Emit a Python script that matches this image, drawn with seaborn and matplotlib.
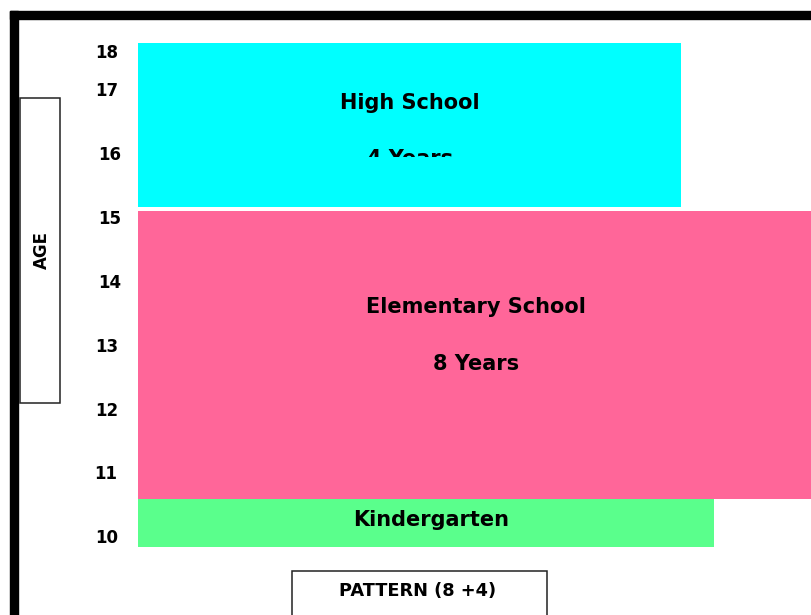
import matplotlib
matplotlib.use("Agg")
import matplotlib.pyplot as plt
import numpy as np
import pandas as pd
import seaborn as sns
from matplotlib.patches import Rectangle
from matplotlib.transforms import Bbox

# ---------------- data ----------------
stages = ["Kindergarten", "Elementary School", "High School"]
durations = ["", "8 Years", "4 Years"]
start_age = [9.84, 10.60, 15.17]
end_age = [10.595, 15.105, 17.745]
bar_span = [576, 690, 543]          # horizontal extent of each block
stage_colors = ["#5AFF8C", "#FF6699", "#00FFFF"]
ages = [10, 11, 12, 13, 14, 15, 16, 17, 18]
age_label_pos = [10, 11, 12, 13, 14, 15, 16, 17, 17.6]
age_label_x = [106.5, 106, 106.5, 106.5, 110, 110, 110, 106.5, 106.5]
y_title = "AGE"
x_title = "PATTERN (8 +4)"

# ---------------- figure ----------------
W, H = 811, 615
sns.set_theme(style="white")
plt.rcParams['font.family'] = ['DejaVu Sans']

PX_PER_YEAR = 63.83
def age_of(px):
    return 10 + (537 - px) / PX_PER_YEAR

def fx(x):
    return x / W

def fy(y):
    return 1 - y / H

fig = plt.figure(figsize=(W / 100, H / 100), dpi=100)
fig.patch.set_facecolor("white")
ax = fig.add_axes([0, 0, 1, 1])
ax.set_xlim(0, W)
ax.set_ylim(age_of(H), age_of(0))
ax.axis("off")

df = pd.DataFrame({"stage": stages, "start": start_age, "end": end_age,
                   "span": bar_span, "color": stage_colors, "dur": durations})
ax.bar(x=138, width=df["span"], bottom=df["start"], height=df["end"] - df["start"],
       align="edge", color=df["color"], linewidth=0, zorder=2)

# outer frame (top and left)
fig.patches.append(Rectangle((fx(10), fy(19)), (W - 10) / W, 8 / H,
                             transform=fig.transFigure, color="black", zorder=5))
fig.patches.append(Rectangle((fx(10), 0), 8.3 / W, fy(11),
                             transform=fig.transFigure, color="black", zorder=5))

# age tick labels (baseline sits ~6 px below the label centre)
base_off = 6.2 / PX_PER_YEAR
for a, pos, xx in zip(ages, age_label_pos, age_label_x):
    ax.text(xx, pos - base_off, str(a), ha="center", va="baseline",
            fontsize=12, fontweight="bold", color="#000000", zorder=3)

# stage texts
big = 15
ax_txt = dict(transform=fig.transFigure, ha="center", va="baseline",
              fontsize=big, fontweight="bold", color="#000000", zorder=4)
fig.text(fx(409.5), fy(109.3), stages[2], **ax_txt)
t4 = fig.text(fx(410.5), fy(165), durations[2], **ax_txt)
t4.set_clip_on(True)
t4.set_clip_box(Bbox([[138, H - 157], [681, H - 43]]))
fig.text(fx(475.5), fy(313.3), stages[1], **ax_txt)
fig.text(fx(476), fy(370), durations[1], **ax_txt)
fig.text(fx(431), fy(526.5), stages[0], **ax_txt)

# AGE box
fig.patches.append(Rectangle((fx(20), fy(403)), 40 / W, 305 / H,
                             transform=fig.transFigure, facecolor="white",
                             edgecolor="#222222", linewidth=1.1, zorder=3))
fig.text(fx(41.5), fy(250), y_title, rotation=90, ha="center", va="center",
         fontsize=12, fontweight="bold", color="#000000", zorder=4)

# PATTERN box
fig.patches.append(Rectangle((fx(291.7), fy(625)), 255 / W, (625 - 570.7) / H,
                             transform=fig.transFigure, facecolor="white",
                             edgecolor="#222222", linewidth=1.1, zorder=3))
fig.text(fx(418), fy(595.7), x_title, ha="center", va="baseline",
         fontsize=12.8, fontweight="bold", color="#000000", zorder=4)

fig.savefig("out.png", dpi=100)
